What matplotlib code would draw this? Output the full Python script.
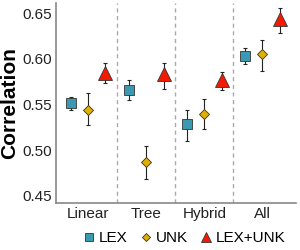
import numpy as np
import matplotlib
matplotlib.use('Agg')
import matplotlib.pyplot as plt

plt.rcParams['font.family'] = ['Liberation Sans', 'DejaVu Sans']

# Modelos e valores de correlação
modelos = ['Linear', 'Tree', 'Hybrid', 'All']
series = ['LEX', 'UNK', 'LEX+UNK']

lex = [0.552, 0.566, 0.529, 0.603]
lex_baixo = [0.544, 0.555, 0.510, 0.594]
lex_alto = [0.558, 0.577, 0.544, 0.612]

unk = [0.544, 0.487, 0.540, 0.605]
unk_baixo = [0.528, 0.468, 0.523, 0.587]
unk_alto = [0.563, 0.505, 0.556, 0.621]

lexunk = [0.584, 0.583, 0.5765, 0.644]
lexunk_baixo = [0.573, 0.567, 0.566, 0.628]
lexunk_alto = [0.595, 0.595, 0.586, 0.6555]

cores = ['#3B9AB2', '#E1AF00', '#F21A00']
marcadores = ['s', 'D', '^']
tamanhos = [7, 5.5, 9.5]
deslocamentos = [-0.3, 0.0, 0.3]

fig = plt.figure(figsize=(3, 2.5), dpi=100)
ax = fig.add_axes([0.187, 0.188, 0.8, 0.8])

x = np.arange(len(modelos))
dados = [(lex, lex_baixo, lex_alto), (unk, unk_baixo, unk_alto), (lexunk, lexunk_baixo, lexunk_alto)]
for i, (v, lo, hi) in enumerate(dados):
    v = np.array(v)
    yerr = [v - np.array(lo), np.array(hi) - v]
    ax.errorbar(x + deslocamentos[i], v, yerr=yerr, fmt='none', ecolor='#222222',
                elinewidth=0.8, capsize=1.5, capthick=0.8, zorder=2)
    ax.plot(x + deslocamentos[i], v, linestyle='none', marker=marcadores[i],
            markersize=tamanhos[i], markerfacecolor=cores[i], markeredgecolor='#333333',
            markeredgewidth=0.6, label=series[i], zorder=3)

# Linhas tracejadas separando os grupos
for s in [0.5, 1.5, 2.5]:
    ax.axvline(s, color='#AAAAAA', linestyle=(0, (3, 2.5)), linewidth=1, zorder=1)

ax.set_xlim(-0.55, 3.58)
ax.set_ylim(0.4423, 0.661)
ax.set_yticks([0.45, 0.50, 0.55, 0.60, 0.65])
ax.set_yticklabels(['0.45', '0.50', '0.55', '0.60', '0.65'])
ax.set_xticks(x)
ax.set_xticklabels(modelos)
ax.tick_params(axis='both', length=0, labelsize=11, colors='#222222', pad=3)
ax.set_ylabel('Correlation', fontsize=15, fontweight='bold', labelpad=2)

for lado in ['top', 'right']:
    ax.spines[lado].set_visible(False)
for lado in ['left', 'bottom']:
    ax.spines[lado].set_color('#888888')
    ax.spines[lado].set_linewidth(1.2)

ax.legend(loc='upper center', bbox_to_anchor=(0.53, -0.11), ncol=3, frameon=False,
          fontsize=11, handletextpad=0.15, columnspacing=0.7, handlelength=1.0,
          markerscale=0.75, borderaxespad=0)

plt.savefig('out.png', dpi=100)
